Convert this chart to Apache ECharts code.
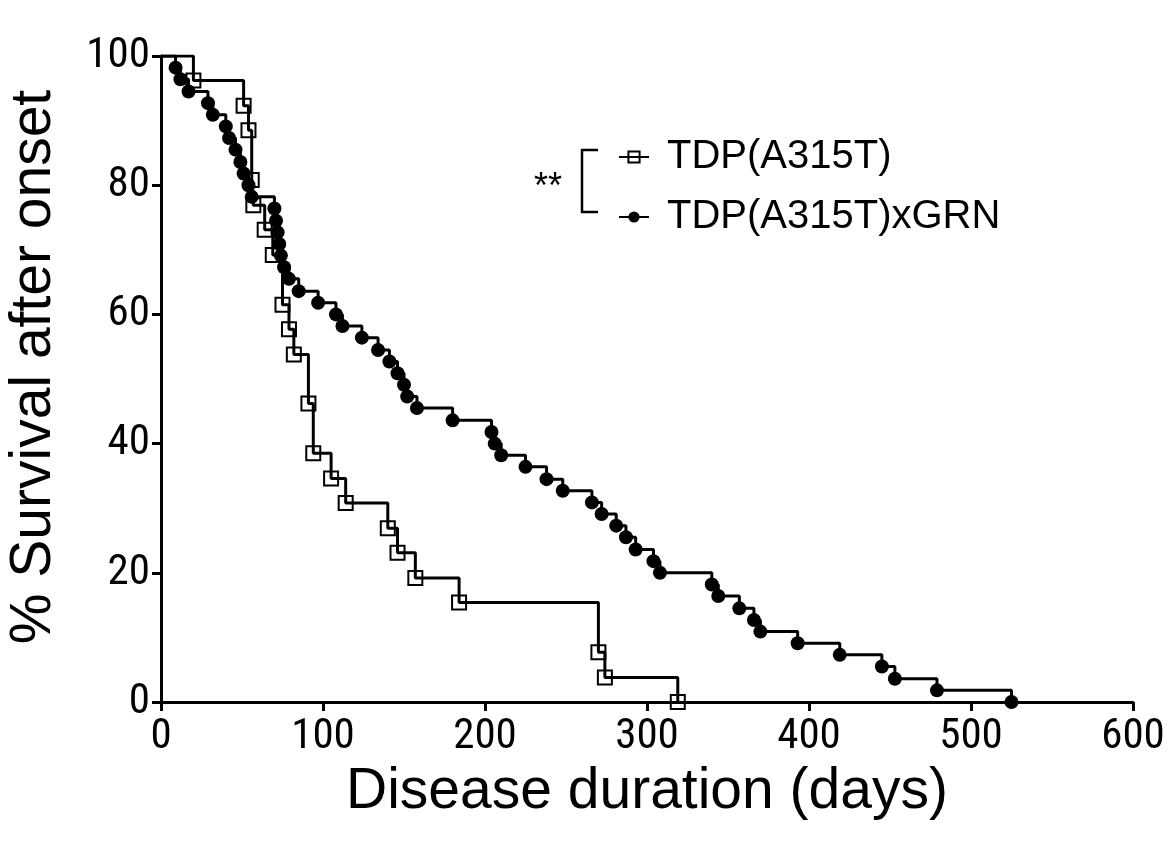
<!DOCTYPE html>
<html><head><meta charset="utf-8">
<script src="https://cdn.jsdelivr.net/npm/echarts@6/dist/echarts.min.js"></script>
<style>html,body{margin:0;padding:0;background:#fff}#c{width:1171px;height:846px}</style>
</head><body><div id="c"></div>
<script>
const seriesNames = ['TDP(A315T)', 'TDP(A315T)xGRN'];
const tdpDays = [0,20,51,54,56,57,64,69,75,79,82,91,94,105,114,140,146,157,184,270,274,319];
const tdpSurvival = [100,96.2,92.3,88.5,80.8,76.9,73.1,69.2,61.5,57.7,53.8,46.2,38.5,34.6,30.8,26.9,23.1,19.2,15.4,7.7,3.8,0];
const grnDays = [0,9,12,17,29,32,40,42,46,49,51,54,56,70,71,72,73,74,76,79,85,97,108,112,124,134,141,146,150,152,158,180,204,206,210,225,238,248,266,272,281,287,293,304,308,340,344,357,366,370,393,419,445,453,479,525];
const grnSurvival = [100,98.2,96.4,94.5,92.7,90.9,89.1,87.3,85.5,83.6,81.8,80.0,78.2,76.4,74.5,72.7,70.9,69.1,67.3,65.5,63.6,61.8,60.0,58.2,56.4,54.5,52.7,50.9,49.1,47.3,45.5,43.6,41.8,40.0,38.2,36.4,34.5,32.7,30.9,29.1,27.3,25.5,23.6,21.8,20.0,18.2,16.4,14.5,12.7,10.9,9.1,7.3,5.5,3.6,1.8,0];
const xTicks = [0,100,200,300,400,500,600];
const yTicks = [0,20,40,60,80,100];
const xTitle = 'Disease duration (days)';
const yTitle = '% Survival after onset';
const sigLabel = '**';

function build(days, surv) {
  return days.map((d, i) => i === 0 ? { value: [d, surv[i]], symbol: 'none' } : [d, surv[i]]);
}
const FONT = "'Roboto Condensed','Liberation Sans',Arial,sans-serif";
const FONT2 = "'Liberation Sans',Arial,sans-serif";
const axisCommon = {
  axisLine: { show: true, lineStyle: { color: '#000', width: 3 } },
  axisTick: { show: true, length: 9, lineStyle: { color: '#000', width: 3 } },
  splitLine: { show: false },
  nameLocation: 'middle'
};
const chart = echarts.init(document.getElementById('c'), null, { renderer: 'canvas' });
chart.setOption({
  backgroundColor: '#fff',
  animation: false,
  grid: { left: 161, right: 38, top: 56, bottom: 144, containLabel: false, outerBoundsMode: 'none' },
  xAxis: Object.assign({}, axisCommon, {
    type: 'value', min: xTicks[0], max: xTicks[xTicks.length - 1], interval: xTicks[1] - xTicks[0],
    name: xTitle, nameGap: 61,
    nameTextStyle: { color: '#000', fontSize: 57, fontFamily: FONT2 },
    axisLabel: { color: '#000', fontSize: 43, fontFamily: FONT, margin: 14 }
  }),
  yAxis: Object.assign({}, axisCommon, {
    type: 'value', min: yTicks[0], max: yTicks[yTicks.length - 1], interval: yTicks[1] - yTicks[0],
    name: yTitle, nameGap: 98,
    nameTextStyle: { color: '#000', fontSize: 57, fontFamily: FONT2, padding: [0, 0, 0, 24] },
    axisLabel: { color: '#000', fontSize: 43, fontFamily: FONT, margin: 11 }
  }),
  legend: {
    orient: 'vertical', left: 613, top: 132,
    itemWidth: 30, itemHeight: 14, itemGap: 20,
    textStyle: { color: '#000', fontSize: 40, fontFamily: FONT2, lineHeight: 40, padding: [0, 0, 0, 13] },
    data: seriesNames
  },
  graphic: [
    { type: 'polyline', shape: { points: [[598, 150], [582, 150], [582, 212], [598, 212]] },
      style: { stroke: '#000', lineWidth: 2.5, fill: null } },
    { type: 'text', x: 548, y: 188, style: { text: sigLabel, font: "36px 'Liberation Sans',Arial", fill: '#000', align: 'center', verticalAlign: 'middle' } }
  ],
  series: [
    {
      name: seriesNames[0], type: 'line', step: 'end',
      data: build(tdpDays, tdpSurvival),
      symbol: 'rect', symbolSize: 14, showAllSymbol: true,
      lineStyle: { color: '#000', width: 3 },
      itemStyle: { color: 'rgba(255,255,255,0)', borderColor: '#000', borderWidth: 2 },
      z: 3
    },
    {
      name: seriesNames[1], type: 'line', step: 'end',
      data: build(grnDays, grnSurvival),
      symbol: 'circle', symbolSize: 14, showAllSymbol: true,
      lineStyle: { color: '#000', width: 3 },
      itemStyle: { color: '#000', borderColor: '#000', borderWidth: 0 },
      z: 2
    }
  ]
});
</script></body></html>
